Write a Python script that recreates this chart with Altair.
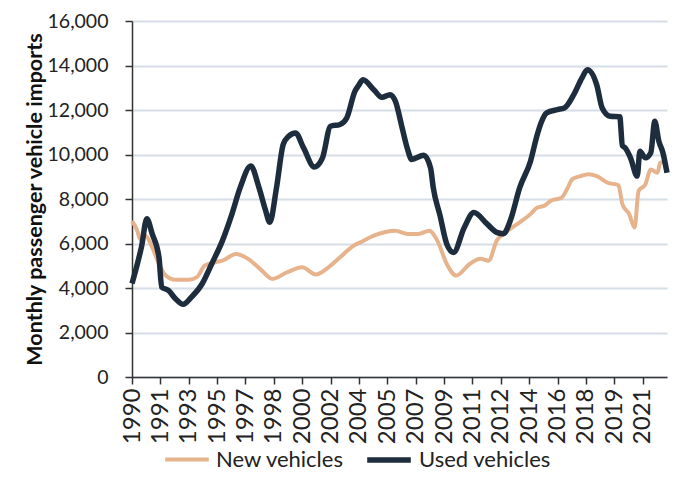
import altair as alt
import pandas as pd

# ---- data (month, value) ----
used_dates = ["1990-01", "1990-05", "1990-08", "1990-12", "1991-04", "1991-09", "1991-11",
              "1992-04", "1992-09", "1993-03", "1993-09", "1994-05", "1994-12", "1995-08",
              "1996-03", "1996-09", "1997-05", "1997-11", "1998-04", "1998-07", "1998-12",
              "1999-05", "1999-09", "2000-02", "2000-08", "2001-04", "2001-10", "2002-04",
              "2002-11", "2003-04", "2003-10", "2004-01", "2004-04", "2004-12", "2005-06",
              "2005-12", "2006-04", "2006-09", "2007-01", "2007-04", "2008-01", "2008-06",
              "2008-08", "2009-01", "2009-06", "2009-11", "2010-07", "2011-02", "2011-12",
              "2012-07", "2012-12", "2013-05", "2013-12", "2014-08", "2015-01", "2015-04",
              "2015-08", "2016-04", "2016-09", "2017-04", "2017-10", "2018-02", "2018-09",
              "2019-01", "2019-07", "2020-02", "2020-04", "2020-06", "2020-10", "2021-03",
              "2021-05", "2021-09", "2022-01", "2022-04", "2022-07", "2022-10", "2023-01"]
used_values = [4200, 5080, 5830, 7110, 6430, 5380, 4040,
               3890, 3530, 3265, 3590, 4190, 5080, 6130,
               7320, 8500, 9480, 8510, 7470, 6950, 8510,
               10450, 10820, 10970, 10300, 9440, 9850, 11270,
               11350, 11640, 12840, 13130, 13360, 12910, 12570,
               12690, 12390, 11190, 10230, 9780, 9970, 9400,
               8510, 7250, 5980, 5600, 6720, 7390, 6870,
               6500, 6440, 7020, 8510, 9700, 10900, 11450,
               11870, 12020, 12090, 12690, 13430, 13810, 13130,
               12090, 11720, 11700, 10400, 10300, 9850, 9030,
               10150, 9850, 10080, 11490, 10600, 10080, 9180]

new_dates = ["1990-01", "1990-05", "1990-07", "1990-11", "1991-04", "1991-09", "1992-02",
             "1992-09", "1993-07", "1994-01", "1994-07", "1995-03", "1995-08", "1996-06",
             "1997-03", "1998-01", "1998-09", "1999-08", "2000-07", "2001-05", "2002-01",
             "2002-11", "2003-09", "2004-02", "2004-12", "2006-04", "2007-01", "2007-09",
             "2008-05", "2008-11", "2009-06", "2010-01", "2010-11", "2011-07", "2012-01",
             "2012-07", "2012-12", "2013-12", "2014-08", "2015-01", "2015-06", "2015-11",
             "2016-07", "2016-11", "2017-03", "2017-09", "2018-03", "2018-09", "2019-05",
             "2020-01", "2020-04", "2020-09", "2021-01", "2021-04", "2021-09", "2022-01",
             "2022-06", "2022-08", "2023-01"]
new_values = [7020, 6570, 6200, 6350, 5830, 5080, 4560,
              4370, 4370, 4490, 5010, 5160, 5230, 5530,
              5310, 4790, 4410, 4710, 4930, 4610, 4860,
              5380, 5900, 6050, 6350, 6570, 6430, 6430,
              6570, 6130, 5080, 4560, 5080, 5310, 5230,
              6130, 6430, 6950, 7320, 7620, 7690, 7920,
              8060, 8440, 8890, 9030, 9110, 9030, 8730,
              8630, 7770, 7320, 6720, 8360, 8660, 9330,
              9180, 9630, 9700]

series_names = ["New vehicles", "Used vehicles"]
series_colors = ["#e6b38d", "#1e2d3d"]

x_tick_months = ["1990-01", "1991-10", "1993-07", "1995-04", "1997-01", "1998-10", "2000-07",
                 "2002-04", "2004-01", "2005-10", "2007-07", "2009-04", "2011-01", "2012-10",
                 "2014-07", "2016-04", "2018-01", "2019-10", "2021-07"]
x_domain = ["1990-01", "2023-01"]
y_ticks = [0, 2000, 4000, 6000, 8000, 10000, 12000, 14000, 16000]


def to_ms(s):
    return int(pd.Timestamp(s + "-01", tz="UTC").value // 10**6)


df = pd.concat([
    pd.DataFrame({"t": [to_ms(d) for d in new_dates], "value": new_values,
                  "series": series_names[0]}),
    pd.DataFrame({"t": [to_ms(d) for d in used_dates], "value": used_values,
                  "series": series_names[1]}),
], ignore_index=True)

FONT = "Lato"

x_enc = alt.X("t:Q",
              scale=alt.Scale(domain=[to_ms(d) for d in x_domain], nice=False, zero=False),
              axis=alt.Axis(values=[to_ms(d) for d in x_tick_months],
                            labelExpr="utcFormat(datum.value, '%Y')",
                            labelAngle=270, title=None, grid=False,
                            tickSize=7, labelPadding=4, labelFontSize=24,
                            domainColor="#333333", tickColor="#333333", labelColor="#222222"))
y_enc = alt.Y("value:Q",
              scale=alt.Scale(domain=[0, 16000], nice=False),
              axis=alt.Axis(values=y_ticks, labelExpr="format(datum.value, ',')",
                            title="Monthly passenger vehicle imports",
                            titleFontSize=21.5, titleFontWeight="bold", titleColor="#111111",
                            titleX=-97, titleY=178, titleBaseline="middle", titleAngle=270,
                            labelFontSize=19.5, labelPadding=17, tickSize=7,
                            labelColor="#222222", gridColor="#d6dee8", gridWidth=2,
                            domainColor="#333333", tickColor="#333333"))
color_enc = alt.Color("series:N",
                      scale=alt.Scale(domain=series_names, range=series_colors),
                      legend=alt.Legend(title=None, orient="none", direction="horizontal",
                                        legendX=31, legendY=414, symbolType="stroke",
                                        symbolSize=1900, symbolStrokeWidth=5,
                                        labelFontSize=22, labelOffset=5, columnPadding=12,
                                        labelColor="#222222"))
width_enc = alt.StrokeWidth("series:N",
                            scale=alt.Scale(domain=series_names, range=[4, 5.5]),
                            legend=None)

chart = alt.Chart(df).mark_line(interpolate="monotone").encode(
    x=x_enc, y=y_enc, color=color_enc, strokeWidth=width_enc,
    order=alt.Order("t:Q"),
).properties(
    width=535, height=356,
    autosize=alt.AutoSizeParams(type="none"),
    padding={"left": 124, "top": 13, "right": 17, "bottom": 100},
).configure(font=FONT).configure_view(stroke=None).configure_axis(domainWidth=1.5, tickWidth=1.5)

chart.save("out.html", embed_options={"renderer": "svg", "actions": False})
